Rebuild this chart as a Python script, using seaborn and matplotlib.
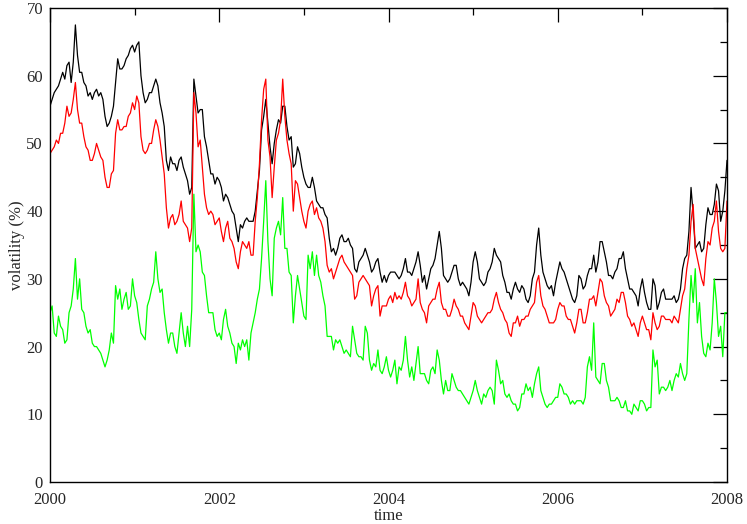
import numpy as np
import pandas as pd
import matplotlib
matplotlib.use("Agg")
import matplotlib.pyplot as plt
from matplotlib.ticker import MultipleLocator
import seaborn as sns

# ── Data (one reading every 1/40 year, 2000 -> 2008) ──
black_vol = [
    55.5, 56.5, 57.5, 58, 58.5, 59.5, 60.5, 59.5, 61.5, 62, 59, 62, 67.5, 63, 60.5, 60.5, 59, 58.5, 57, 57.5,
    56.5, 57.5, 58, 57, 57.5, 56.5, 54, 52.5, 53, 54, 55.5, 59, 62.5, 61, 61, 61.5, 62.5, 63, 64, 64.5,
    63.5, 64.5, 65, 60, 57.5, 56, 56.5, 57.5, 57.5, 58.5, 59.5, 58.5, 56, 54.5, 52.5, 47.5, 46, 48, 47, 47,
    46, 47.5, 48, 46.5, 45.5, 44.5, 42.5, 43.5, 59.5, 57, 54.5, 55, 55, 51, 49.5, 47.5, 45.5, 45.5, 44, 45,
    44.5, 43.5, 41.5, 42.5, 42, 41, 40, 39.5, 37.5, 35.5, 38, 37.5, 38.5, 39, 38.5, 38.5, 38.5, 40, 43, 46,
    52, 54, 56.5, 53, 49.5, 47, 50, 52, 53.5, 53, 55.5, 55.5, 52.5, 50.5, 51, 46.5, 47, 49.5, 48.5, 46.5,
    45, 44, 43.5, 43.5, 45, 43.5, 41.5, 41, 40.5, 40.5, 39.5, 39, 36, 34, 34.5, 33.5, 34.5, 36, 36.5, 35.5,
    35.5, 36, 35, 34.5, 31.5, 31, 32.5, 33, 33.5, 34.5, 33.5, 32.5, 31, 31.5, 32.5, 33, 31, 29.5, 30.5, 29.5,
    30.5, 31, 31, 31, 30.5, 30, 30.5, 31.5, 33, 31, 31, 30.5, 31.5, 32.5, 34, 32, 29.5, 30.5, 28.5, 30,
    31.5, 32, 33, 35, 37, 34.5, 30.5, 30, 29.5, 30, 31, 32, 32, 30, 29, 29.5, 29, 28.5, 27.5, 29.5,
    32.5, 34, 32.5, 30, 29.5, 29, 29.5, 31, 31.5, 32.5, 34.5, 33.5, 33, 32.5, 30.5, 29.5, 28, 28, 27, 28.5,
    29.5, 28.5, 28, 29, 28.5, 27, 26.5, 27.5, 30, 31, 35, 37.5, 33.5, 31, 30, 29, 28.5, 29, 27.5, 29.5,
    31, 32.5, 31.5, 31, 30, 29, 28, 27, 26.5, 27.5, 30.5, 30, 28.5, 29, 30.5, 31.5, 31.5, 33.5, 31, 32.5,
    35.5, 35.5, 34, 32.5, 30.5, 30.5, 30, 31, 31.5, 33, 33, 34, 31.5, 30, 28.5, 28.5, 28, 27.5, 26, 28.5,
    30, 28, 26.5, 25.5, 25.5, 30, 29, 25.5, 26.5, 28, 28.5, 27, 27, 27, 27, 27.5, 26.5, 27, 28.5, 31.5,
    33, 33.5, 37, 43.5, 39.5, 34.5, 35, 35.5, 34, 34.5, 38, 40.5, 39.5, 39.5, 41, 44, 43, 38.5, 40, 43,
    47.5,
]
red_vol = [
    48.5, 49, 49.5, 50.5, 50, 51.5, 51.5, 53, 55.5, 54, 54.5, 56.5, 59, 55, 53, 53, 51, 49.5, 49, 47.5,
    47.5, 48.5, 50, 49, 48, 47.5, 45, 43.5, 43.5, 45.5, 46, 51.5, 53.5, 52, 52, 52.5, 52.5, 54, 54.5, 56,
    55, 57, 56, 51, 49, 48.5, 49, 50, 50, 52, 53.5, 52.5, 50.5, 48, 45.5, 40.5, 37.5, 39, 39.5, 38,
    38.5, 39.5, 41.5, 38.5, 38, 37.5, 35.5, 37.5, 57.5, 54.5, 49.5, 50.5, 46.5, 42.5, 40.5, 39.5, 40, 39.5, 38, 38.5,
    39, 37, 35.5, 37.5, 38.5, 36, 35.5, 34.5, 32.5, 31.5, 34, 35.5, 35, 34.5, 35.5, 33.5, 33.5, 38.5, 42, 47,
    53.5, 58, 59.5, 50.5, 48, 42, 46.5, 50.5, 51.5, 53.5, 59.5, 54, 50.5, 48.5, 47, 40, 44.5, 44, 42, 40,
    38.5, 37.5, 40, 41, 41.5, 39.5, 40.5, 39, 38.5, 37.5, 35.5, 32, 31, 31.5, 30, 31, 32, 33, 33.5, 32.5,
    32, 31.5, 31, 30.5, 27, 27.5, 29.5, 30, 30.5, 30, 29.5, 29, 26, 27.5, 28.5, 29, 24.5, 26, 26, 26,
    27, 27.5, 26.5, 28, 27, 27.5, 27, 28, 29.5, 27.5, 27, 26, 26.5, 27, 30, 26.5, 25.5, 25, 23.5, 26,
    26.5, 27, 27, 28.5, 29.5, 26.5, 25.5, 25.5, 24.5, 24.5, 25.5, 27, 26, 25.5, 24.5, 24.5, 23.5, 23, 22.5, 24.5,
    26.5, 26, 24.5, 24, 23.5, 24, 24.5, 25, 25, 25.5, 27, 28, 26.5, 25.5, 25, 24, 23.5, 22, 21.5, 23.5,
    23.5, 24.5, 23, 24, 24, 24.5, 24.5, 25.5, 26, 26.5, 29.5, 30.5, 27.5, 26, 25.5, 24.5, 23.5, 23.5, 23.5, 24,
    25.5, 26.5, 26, 26, 24.5, 24, 24, 23, 22, 23.5, 25.5, 25.5, 23.5, 23.5, 25, 27, 27, 27.5, 26, 28,
    30, 29.5, 27.5, 26.5, 26, 24.5, 25, 25.5, 27, 26.5, 28, 28, 26.5, 24.5, 24, 23, 23.5, 22.5, 21.5, 23.5,
    24.5, 23.5, 22.5, 22.5, 21, 25, 23.5, 22.5, 23, 24.5, 24.5, 24, 24, 24, 23.5, 24.5, 24, 23.5, 25.5, 27.5,
    28.5, 31.5, 33.5, 38.5, 41, 34.5, 33, 31.5, 30, 29, 33, 35.5, 35, 37.5, 38.5, 41.5, 37, 34.5, 34, 34.5,
    41.5,
]
green_vol = [
    25, 26, 22, 21.5, 24.5, 23, 22.5, 20.5, 21, 25, 26, 28.5, 33, 27, 30, 25.5, 25, 23, 22, 22.5,
    20.5, 20, 20, 19.5, 19, 18, 17, 18, 19.5, 22, 20.5, 29, 27, 28.5, 25.5, 27, 28, 25.5, 26, 30,
    27.5, 26.5, 24, 22, 21.5, 21, 26, 27, 28.5, 29.5, 34, 30, 28, 28.5, 25, 22.5, 20.5, 22, 22, 20,
    19, 22, 25, 22, 20, 23, 20, 25.5, 42.5, 34, 35, 34, 31, 30.5, 27.5, 25, 25, 25, 22.5, 21.5,
    22, 21, 24, 25.5, 23, 22, 20.5, 20, 17.5, 20.5, 19.5, 21, 20, 21, 18, 22, 23.5, 25, 27, 28.5,
    33, 38.5, 44.5, 35.5, 30, 27.5, 36, 37.5, 38.5, 36.5, 42, 34.5, 34.5, 31, 30.5, 23.5, 27.5, 30.5, 28.5, 26.5,
    24.5, 24, 33.5, 31.5, 34, 30.5, 33.5, 30.5, 29.5, 27.5, 26, 21.5, 21.5, 21.5, 19.5, 21, 20.5, 21, 20, 19,
    19.5, 19, 18.5, 23, 21, 19, 18.5, 18.5, 18, 23, 22, 18, 16.5, 17.5, 17, 19.5, 16.5, 16, 17, 18.5,
    16.5, 15.5, 16.5, 18, 14.5, 17, 16.5, 18, 21.5, 18, 15.5, 17, 15, 17.5, 20, 16, 16, 16, 15, 14.5,
    16.5, 17, 16, 19.5, 18, 15, 13, 15, 13.5, 13.5, 16, 15, 14, 13.5, 13.5, 13, 12.5, 12, 11.5, 12.5,
    13.5, 15, 13.5, 12.5, 11.5, 13, 12.5, 13.5, 14, 13.5, 11.5, 18, 16.5, 14.5, 15, 13, 12.5, 13, 12, 11.5,
    11.5, 10.5, 11, 13, 13, 14.5, 13.5, 14, 12.5, 14.5, 16, 17, 13.5, 12.5, 11.5, 11, 11.5, 11.5, 12, 12.5,
    12.5, 14.5, 14, 13, 13, 12.5, 11.5, 12, 11.5, 12, 12, 12, 11.5, 12.5, 17, 18.5, 16.5, 23.5, 15.5, 15,
    14.5, 17.5, 17.5, 15, 14, 12, 12, 12, 12.5, 12, 11, 11, 12, 10.5, 10.5, 10, 11.5, 11, 10.5, 12,
    12, 11.5, 10.5, 11, 11, 19.5, 17, 18, 13, 14, 14, 13.5, 14, 15, 13.5, 15, 16, 15.5, 17.5, 16,
    15, 16, 24, 30.5, 26.5, 31.5, 23.5, 26.5, 21.5, 19, 18.5, 20.5, 19.5, 23.5, 30, 26.5, 21.5, 23, 18.5, 25,
    25,
]

x_ticks = [2000, 2002, 2004, 2006, 2008]
y_ticks = [0, 10, 20, 30, 40, 50, 60, 70]

series = [("black", black_vol, "#000000"),
          ("red", red_vol, "#ff0000"),
          ("green", green_vol, "#00ff00")]

# ── Style ────────────────────────────────────────────────────────────────────
sns.set_style("white")
plt.rcParams["font.family"] = ["Liberation Serif", "DejaVu Serif"]

fig = plt.figure(figsize=(7.47, 5.24), dpi=100)
ax = fig.add_axes([50 / 747, 1 - 482 / 524, 677 / 747, 474 / 524])

for name, vals, c in series:
    # sampling dates as decimal years, 2000.0 -> 2008.0
    df = pd.DataFrame({"time": np.linspace(2000, 2008, len(vals)), "vol": vals})
    sns.lineplot(data=df, x="time", y="vol", color=c, lw=0.9, ax=ax,
                 estimator=None, sort=False)

ax.set_xlim(2000, 2008)
ax.set_ylim(0, 70)
ax.set_xticks(x_ticks)
ax.set_yticks(y_ticks)
ax.xaxis.set_minor_locator(MultipleLocator(1))
ax.yaxis.set_minor_locator(MultipleLocator(5))
ax.tick_params(which="both", direction="in", top=True, right=True,
               labelsize=12, width=0.9, color="black")
ax.tick_params(axis="x", which="major", pad=7)
ax.tick_params(axis="y", which="major", pad=5)
ax.tick_params(which="major", length=10)
ax.tick_params(which="minor", length=5)

for s in ax.spines.values():
    s.set_linewidth(1.0)
    s.set_color("black")

ax.set_xlabel("time", fontsize=12, labelpad=0)
ax.set_ylabel("volatility (%)", fontsize=12, labelpad=1)

fig.savefig("out.png", dpi=100)
